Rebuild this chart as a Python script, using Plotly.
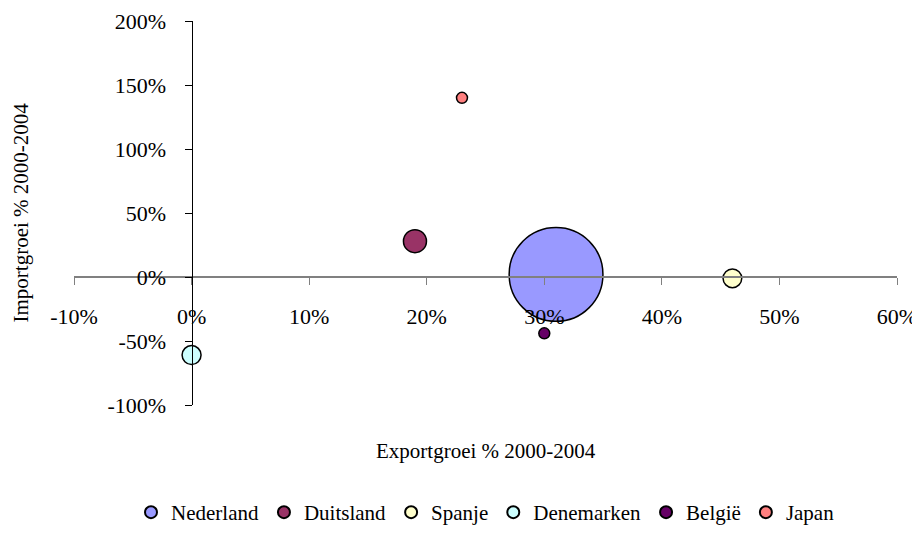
import plotly.graph_objects as go

# Export- en importgroei 2000-2004 per land
landen = ['Nederland', 'Duitsland', 'Spanje', 'Denemarken', 'België', 'Japan']
exportgroei = [0.31, 0.19, 0.46, 0.00, 0.30, 0.23]
importgroei = [0.02, 0.28, -0.01, -0.61, -0.44, 1.40]
omvang = [88, 5.3, 3.5, 3.6, 1.2, 1.2]
kleuren = ['#9999FF', '#993366', '#FFFFCC', '#CCFFFF', '#660066', '#FF8080']

x_ticks = [-0.1, 0.0, 0.1, 0.2, 0.3, 0.4, 0.5, 0.6]
x_labels = ['-10%', '0%', '10%', '20%', '30%', '40%', '50%', '60%']
y_ticks = [-1.0, -0.5, 0.0, 0.5, 1.0, 1.5, 2.0]
y_labels = ['-100%', '-50%', '0%', '50%', '100%', '150%', '200%']

x_range = [-0.1, 0.6]
y_range = [-1.0, 2.0]

font_serif = 'Liberation Serif, Times New Roman, serif'

fig = go.Figure()

for land, x, y, s, kleur in zip(landen, exportgroei, importgroei, omvang, kleuren):
    fig.add_trace(go.Scatter(
        x=[x], y=[y],
        mode='markers',
        name=land,
        marker=dict(
            size=[s],
            sizemode='area',
            sizeref=0.02,
            color=kleur,
            opacity=1,
            line=dict(color='black', width=1.5)
        )
    ))

# assen kruisen elkaar in 0
x_pos = (0 - y_range[0]) / (y_range[1] - y_range[0])
y_pos = (0 - x_range[0]) / (x_range[1] - x_range[0])

# de pagina heeft 8px body-marge, daarom iets verschoven
fig.update_layout(
    width=912, height=518,
    margin=dict(l=66, r=23, t=13, b=121, autoexpand=False),
    paper_bgcolor='white',
    plot_bgcolor='white',
    font=dict(family=font_serif, size=22, color='black'),
    showlegend=True,
    legend=dict(
        orientation='h',
        x=0.5, xanchor='center',
        y=-0.28, yanchor='middle',
        itemsizing='constant',
        font=dict(size=21),
        itemwidth=30,
    ),
    xaxis=dict(
        range=x_range,
        tickmode='array',
        tickvals=x_ticks,
        ticktext=x_labels,
        anchor='free',
        position=x_pos,
        automargin=False,
        ticklabeloverflow='allow',
        showgrid=False,
        zeroline=False,
        showline=True,
        linecolor='#808080',
        linewidth=1.5,
        ticks='outside',
        ticklen=7,
        tickcolor='#808080',
        ticklabelstandoff=13,
    ),
    yaxis=dict(
        range=y_range,
        tickmode='array',
        tickvals=y_ticks,
        ticktext=y_labels,
        anchor='free',
        position=y_pos,
        automargin=False,
        ticklabeloverflow='allow',
        showgrid=False,
        zeroline=False,
        showline=True,
        linecolor='black',
        linewidth=1,
        ticks='outside',
        ticklen=7,
        tickcolor='black',
        ticklabelstandoff=14,
    ),
    annotations=[
        dict(text='Exportgroei % 2000-2004', xref='paper', yref='paper',
             x=0.5, y=-0.12, xanchor='center', yanchor='middle',
             showarrow=False, font=dict(size=21)),
        dict(text='Importgroei % 2000-2004', xref='paper', yref='paper',
             x=-0.065, y=0.5, xanchor='center', yanchor='middle',
             textangle=-90, showarrow=False, font=dict(size=21)),
    ],
)

fig.write_html('out.html')
